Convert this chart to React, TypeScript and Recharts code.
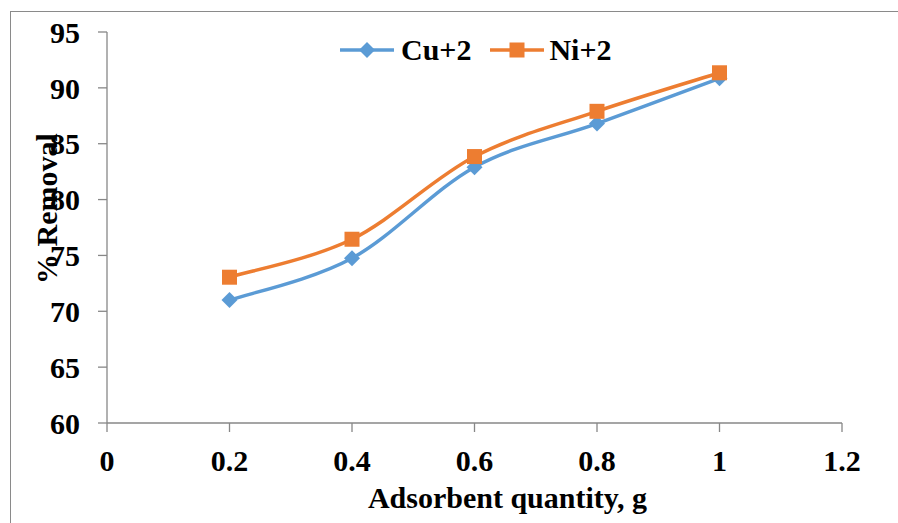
import React from 'react';
import { LineChart, Line, XAxis, YAxis } from 'recharts';

const quantities = [0.2, 0.4, 0.6, 0.8, 1.0];
const cuRemoval = [71.0, 74.75, 82.9, 86.8, 90.85];
const niRemoval = [73.05, 76.45, 83.85, 87.9, 91.35];
const xTicks = [0, 0.2, 0.4, 0.6, 0.8, 1.0, 1.2];
const yTicks = [60, 65, 70, 75, 80, 85, 90, 95];
const seriesNames = ['Cu+2', 'Ni+2'];
const xTitle = 'Adsorbent quantity, g';
const yTitle = '% Removal';

const data = quantities.map((q, i) => ({ q, cu: cuRemoval[i], ni: niRemoval[i] }));

const BLUE = '#5B9BD5';
const ORANGE = '#ED7D31';
const AXIS = '#878787';
const FONT = '"Liberation Serif", "Times New Roman", Tinos, serif';
const FS = 30;

// Excel-like smoothing (Catmull-Rom / cardinal with tension 0)
const smoothCurve: any = (context: any) => {
  let pts: number[][] = [];
  return {
    areaStart() {},
    areaEnd() {},
    lineStart() { pts = []; },
    point(x: number, y: number) { pts.push([+x, +y]); },
    lineEnd() {
      if (!pts.length) return;
      context.moveTo(pts[0][0], pts[0][1]);
      for (let i = 0; i < pts.length - 1; i++) {
        const p0 = pts[i - 1] || pts[i];
        const p1 = pts[i];
        const p2 = pts[i + 1];
        const p3 = pts[i + 2] || pts[i + 1];
        const c1x = p1[0] + (p2[0] - p0[0]) / 6;
        const c1y = p1[1] + (p2[1] - p0[1]) / 6;
        const c2x = p2[0] - (p3[0] - p1[0]) / 6;
        const c2y = p2[1] - (p3[1] - p1[1]) / 6;
        context.bezierCurveTo(c1x, c1y, c2x, c2y, p2[0], p2[1]);
      }
    },
  };
};

const Diamond = (props: any) => {
  const { cx, cy } = props;
  if (cx == null || cy == null) return null;
  const r = 8;
  return (
    <path
      key={`d-${cx}`}
      d={`M${cx},${cy - r}L${cx + r},${cy}L${cx},${cy + r}L${cx - r},${cy}Z`}
      fill={BLUE}
    />
  );
};

const Square = (props: any) => {
  const { cx, cy } = props;
  if (cx == null || cy == null) return null;
  const s = 15;
  return <rect key={`s-${cx}`} x={cx - s / 2} y={cy - s / 2} width={s} height={s} fill={ORANGE} />;
};

const textStyle: React.CSSProperties = { fontFamily: FONT, fontWeight: 'bold', fontSize: FS };

const LegendBox = () => (
  <div
    style={{
      position: 'absolute',
      left: 338,
      top: 30,
      display: 'flex',
      alignItems: 'center',
      color: '#000',
      lineHeight: '40px',
      ...textStyle,
    }}
  >
    <svg width={58} height={20} style={{ marginRight: 5 }}>
      <line x1={2} y1={10} x2={56} y2={10} stroke={BLUE} strokeWidth={3.5} />
      <path d="M29,2L37,10L29,18L21,10Z" fill={BLUE} />
    </svg>
    <span style={{ marginRight: 17 }}>{seriesNames[0]}</span>
    <svg width={58} height={20} style={{ marginRight: 3 }}>
      <line x1={2} y1={10} x2={56} y2={10} stroke={ORANGE} strokeWidth={3.5} />
      <rect x={21.5} y={2.5} width={15} height={15} fill={ORANGE} />
    </svg>
    <span>{seriesNames[1]}</span>
  </div>
);

const YTitle = (props: any) => {
  const vb = props.viewBox || {};
  const x = 57;
  const y = (vb.y ?? 32) + (vb.height ?? 391) / 2 - 19;
  return (
    <text x={x} y={y} transform={`rotate(-90, ${x}, ${y})`} textAnchor="middle" style={textStyle} fill="#000">
      {yTitle}
    </text>
  );
};

const XTitle = (props: any) => {
  const vb = props.viewBox || {};
  const x = (vb.x ?? 107) + (vb.width ?? 735) / 2 + 33;
  const y = 508;
  return (
    <text x={x} y={y} textAnchor="middle" style={textStyle} fill="#000">
      {xTitle}
    </text>
  );
};

export default function App() {
  return (
    <div
      style={{
        position: 'absolute',
        left: 0,
        top: 0,
        width: 898,
        height: 523,
        overflow: 'hidden',
        background: '#fff',
      }}
    >
      <div
        style={{
          position: 'absolute',
          left: 10,
          top: 11,
          width: 1000,
          height: 1000,
          borderLeft: '1px solid #8a8a8a',
          borderTop: '1.5px solid #8a8a8a',
        }}
      />
      <LineChart
        width={898}
        height={523}
        data={data}
        margin={{ top: 32, right: 56, bottom: 0, left: 0 }}
        style={{ position: 'absolute', left: 0, top: 0 }}
      >
        <XAxis
          dataKey="q"
          type="number"
          domain={[0, 1.2]}
          ticks={xTicks}
          interval={0}
          height={100}
          tickSize={9}
          tickMargin={18}
          stroke={AXIS}
          strokeWidth={1.3}
          tickFormatter={(v: number) => String(Math.round(v * 10) / 10)}
          tick={{ fill: '#000', style: textStyle }}
          label={<XTitle />}
        />
        <YAxis
          type="number"
          domain={[60, 95]}
          ticks={yTicks}
          interval={0}
          width={107}
          tickSize={9}
          tickMargin={18}
          stroke={AXIS}
          strokeWidth={1.3}
          tick={{ fill: '#000', style: textStyle }}
          label={<YTitle />}
        />
        <Line
          dataKey="cu"
          name={seriesNames[0]}
          type={smoothCurve}
          stroke={BLUE}
          strokeWidth={3.5}
          dot={<Diamond />}
          activeDot={false}
          isAnimationActive={false}
        />
        <Line
          dataKey="ni"
          name={seriesNames[1]}
          type={smoothCurve}
          stroke={ORANGE}
          strokeWidth={3.5}
          dot={<Square />}
          activeDot={false}
          isAnimationActive={false}
        />
      </LineChart>
      <LegendBox />
    </div>
  );
}
